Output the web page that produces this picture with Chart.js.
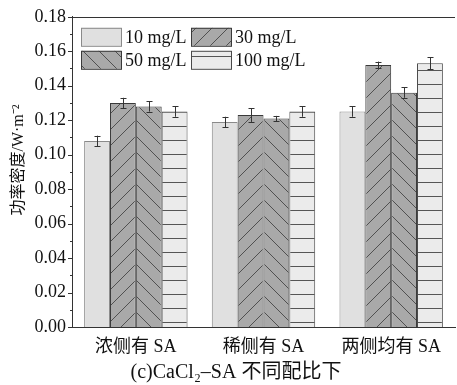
<!DOCTYPE html>
<html>
<head>
<meta charset="utf-8">
<script src="https://cdn.jsdelivr.net/npm/chart.js@4"></script>
<style>
  html, body { margin: 0; padding: 0; background: #fff; }
  #wrap { width: 457px; height: 385px; }
</style>
</head>
<body>
<div id="wrap"><canvas id="c" width="457" height="385"></canvas></div>
<script>
const categories = ['浓侧有 SA', '稀侧有 SA', '两侧均有 SA'];
const seriesLabels = ['10 mg/L', '30 mg/L', '50 mg/L', '100 mg/L'];
const v10 = [0.108, 0.119, 0.125];
const v30 = [0.130, 0.123, 0.152];
const v50 = [0.128, 0.121, 0.136];
const v100 = [0.125, 0.125, 0.153];
const err10 = [0.003, 0.003, 0.003];
const err30 = [0.003, 0.004, 0.002];
const err50 = [0.003, 0.0015, 0.003];
const err100 = [0.003, 0.003, 0.0035];
const yMin = 0, yMax = 0.18, yStep = 0.02;

const SERIF = '"Liberation Serif", "Noto Sans CJK SC", serif';

// hatch patterns
function makePattern(kind) {
  const c = document.createElement('canvas');
  const ctx = c.getContext('2d');
  if (kind === 'plain') {
    c.width = 4; c.height = 4;
    ctx.fillStyle = '#e0e0e0'; ctx.fillRect(0, 0, 4, 4);
  } else if (kind === 'fwd' || kind === 'back') {
    const s = 16;
    c.width = s; c.height = s;
    ctx.fillStyle = '#a9a9a9'; ctx.fillRect(0, 0, s, s);
    ctx.strokeStyle = '#3a3a3a'; ctx.lineWidth = 0.8;
    ctx.beginPath();
    if (kind === 'fwd') {
      ctx.moveTo(-2, s + 2); ctx.lineTo(s + 2, -2);
      ctx.moveTo(-2, 2); ctx.lineTo(2, -2);
      ctx.moveTo(s - 2, s + 2); ctx.lineTo(s + 2, s - 2);
    } else {
      ctx.moveTo(-2, -2); ctx.lineTo(s + 2, s + 2);
      ctx.moveTo(s - 2, -2); ctx.lineTo(s + 2, 2);
      ctx.moveTo(-2, s - 2); ctx.lineTo(2, s + 2);
    }
    ctx.stroke();
  } else {
    c.width = 8; c.height = 14;
    ctx.fillStyle = '#ebebeb'; ctx.fillRect(0, 0, 8, 14);
    ctx.fillStyle = '#555'; ctx.fillRect(0, 0, 8, 1);
  }
  return document.getElementById('c').getContext('2d').createPattern(c, 'repeat');
}

const fills = [makePattern('plain'), makePattern('fwd'), makePattern('back'), makePattern('horiz')];
const borders = ['#8a8a8a', '#3a3a3a', '#3a3a3a', '#4a4a4a'];
const values = [v10, v30, v50, v100];
const errors = [err10, err30, err50, err100];

const datasets = seriesLabels.map((lab, i) => ({
  label: lab,
  data: values[i],
  errs: errors[i],
  backgroundColor: fills[i],
  borderColor: borders[i],
  borderWidth: 1,
  categoryPercentage: 0.81,
  barPercentage: 1.0
}));

const errorBars = {
  id: 'errorBars',
  afterDatasetsDraw(chart) {
    const ctx = chart.ctx;
    const y = chart.scales.y;
    ctx.save();
    ctx.strokeStyle = '#333';
    ctx.lineWidth = 1;
    chart.data.datasets.forEach((ds, di) => {
      chart.getDatasetMeta(di).data.forEach((bar, j) => {
        const v = ds.data[j], e = ds.errs[j];
        const x = Math.round(bar.x) + 0.5;
        const yt = y.getPixelForValue(v + e), yb = y.getPixelForValue(v - e);
        ctx.beginPath();
        ctx.moveTo(x, yt); ctx.lineTo(x, yb);
        ctx.moveTo(x - 3, Math.round(yt) + 0.5); ctx.lineTo(x + 3, Math.round(yt) + 0.5);
        ctx.moveTo(x - 3, Math.round(yb) + 0.5); ctx.lineTo(x + 3, Math.round(yb) + 0.5);
        ctx.stroke();
      });
    });
    ctx.restore();
  }
};

const frame = {
  id: 'frame',
  afterDraw(chart) {
    const ctx = chart.ctx;
    const a = chart.chartArea;
    const y = chart.scales.y;
    ctx.save();
    ctx.strokeStyle = '#333';
    ctx.lineWidth = 1;
    ctx.beginPath();
    // top frame
    ctx.moveTo(a.left, Math.round(a.top) + 0.5); ctx.lineTo(a.right, Math.round(a.top) + 0.5);
    // y ticks (major + minor)
    for (let v = yMin; v <= yMax + 1e-9; v += yStep / 2) {
      const py = Math.round(y.getPixelForValue(v)) + 0.5;
      const major = Math.round(v / yStep * 2) % 2 === 0;
      ctx.moveTo(a.left, py); ctx.lineTo(a.left - (major ? 4 : 2), py);
    }
    ctx.stroke();

    // legend inside plot
    ctx.font = '18px ' + SERIF;
    ctx.textBaseline = 'middle';
    chart.data.datasets.forEach((ds, i) => {
      const col = i % 2, row = Math.floor(i / 2);
      const bx = a.left + 9 + col * 110, by = a.top + 11 + row * 23;
      ctx.fillStyle = ds.backgroundColor;
      ctx.fillRect(bx, by, 40, 18);
      ctx.strokeStyle = ds.borderColor;
      ctx.strokeRect(bx + 0.5, by + 0.5, 40, 18);
      ctx.fillStyle = '#111';
      ctx.fillText(ds.label, bx + 44, by + 10);
    });

    // y axis title
    ctx.save();
    ctx.translate(19, 160);
    ctx.rotate(-Math.PI / 2);
    ctx.font = '16px ' + SERIF;
    ctx.textAlign = 'center';
    ctx.textBaseline = 'middle';
    ctx.fillStyle = '#111';
    ctx.fillText('功率密度/W·m⁻²', 0, 0);
    ctx.restore();

    // caption
    ctx.font = '20px ' + SERIF;
    ctx.fillStyle = '#111';
    ctx.textAlign = 'center';
    ctx.textBaseline = 'alphabetic';
    ctx.fillText('(c)CaCl₂–SA 不同配比下', 236, 378);
    ctx.restore();
  }
};

new Chart(document.getElementById('c'), {
  type: 'bar',
  data: { labels: categories, datasets: datasets },
  options: {
    responsive: false,
    animation: false,
    layout: { padding: { top: 16, right: 2, left: 0, bottom: 0 } },
    plugins: {
      legend: { display: false },
      tooltip: { enabled: false }
    },
    scales: {
      x: {
        grid: { display: false, drawTicks: false },
        border: { display: true, color: '#333', width: 1 },
        ticks: { color: '#111', font: { family: SERIF, size: 18 }, padding: 9 },
        afterFit(s) { s.height = 58; }
      },
      y: {
        min: yMin,
        max: yMax,
        grid: { display: false, drawTicks: false },
        border: { display: true, color: '#333', width: 1 },
        ticks: {
          stepSize: yStep,
          color: '#111',
          padding: 6,
          font: { family: SERIF, size: 18 },
          callback: v => v.toFixed(2)
        },
        afterFit(s) { s.width = 72; }
      }
    }
  },
  plugins: [errorBars, frame]
});
</script>
</body>
</html>
